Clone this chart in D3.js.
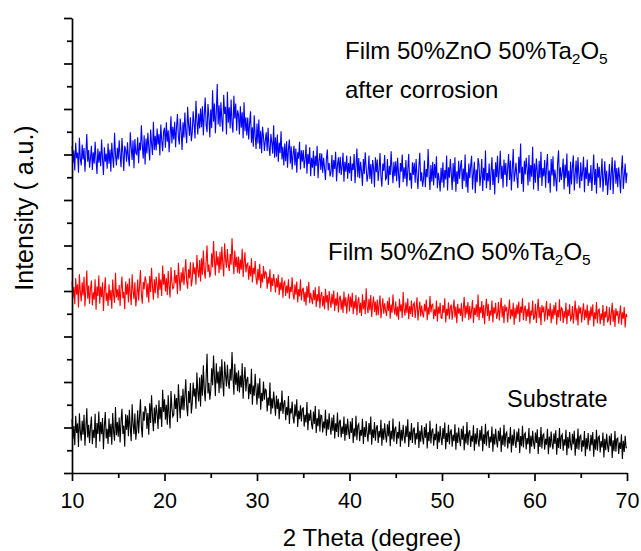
<!DOCTYPE html>
<html><head><meta charset="utf-8">
<script src="https://cdn.jsdelivr.net/npm/d3@7"></script>
<style>
body{margin:0;background:#fff;}
text{font-family:Arial,"Liberation Sans",Helvetica,sans-serif;fill:#000;}
</style>
</head><body>
<svg id="chart" width="641" height="551"></svg>
<script>
// sampling grid of the patterns (2θ, degrees)
const thetaStart = 10, thetaStep = 0.1;
const xTicks = [10, 20, 30, 40, 50, 60, 70];
const xMinorTicks = [15, 25, 35, 45, 55, 65];
const yTicks = [0,100,200,300,400,500,600,700,800,900,1000];
const yMinorTicks = [50,150,250,350,450,550,650,750,850,950];
const seriesColors = ["#0000ff", "#ff0000", "#000000"];

// Intensity (a.u., offset stacked), one value per 0.1° from 10° to 70°
const afterCorrosion = [
718,681,709,665,726,692,704,660,737,690,
676,722,689,714,662,701,745,684,710,671,
693,719,666,705,680,728,688,657,713,682,
707,674,733,690,655,716,684,702,669,724,
680,711,662,726,693,671,748,700,676,715,
689,731,698,672,736,705,664,719,711,684,
727,693,674,749,716,688,731,670,734,703,
700,738,681,726,709,764,720,691,742,678,
735,702,748,716,687,755,724,699,772,710,
741,709,757,722,745,698,766,731,707,750,
759,715,771,728,753,705,742,784,724,761,
733,772,716,760,789,738,722,779,751,710,
771,737,792,749,725,805,766,741,782,729,
748,795,767,735,818,776,744,790,757,801,
760,806,742,788,825,765,749,811,783,738,
799,758,841,772,812,747,793,855,766,808,
761,815,776,750,831,789,805,744,838,770,
804,757,821,768,748,829,779,812,752,797,
788,744,806,759,793,736,815,751,782,742,
781,733,769,795,726,760,717,786,740,712,
768,724,777,712,752,703,761,739,708,731,
749,708,759,716,697,745,726,702,764,693,
738,695,744,684,726,703,751,689,717,676,
724,685,729,671,712,733,680,718,667,701,
719,676,713,660,705,691,728,667,709,684,
710,670,689,722,658,701,679,716,652,693,
671,708,653,697,675,719,648,686,703,666,
702,660,693,671,644,689,711,665,681,652,
661,699,650,688,668,706,641,677,694,659,
695,655,673,704,640,684,662,698,647,681,
659,696,642,680,666,701,637,675,713,650,
692,648,684,663,631,690,657,705,671,640,
657,698,646,679,636,688,670,628,694,661,
689,642,667,703,651,629,680,664,699,645,
648,690,633,675,655,707,668,637,684,652,
685,641,693,658,627,681,662,700,639,672,
646,688,630,665,701,643,660,625,683,655,
682,638,690,651,624,673,704,641,661,629,
645,687,628,668,650,712,656,622,677,640,
684,632,679,648,696,626,660,644,619,671,
638,683,627,666,645,698,621,672,649,690,
659,622,681,640,694,618,663,635,686,647,
673,688,624,669,642,700,628,661,616,680,
648,675,697,623,658,684,615,667,639,692,
678,631,654,690,620,671,643,709,626,659,
641,680,622,662,694,633,668,612,683,650,
697,637,666,708,646,675,627,689,655,681,
629,670,701,644,687,621,667,712,640,658,
682,648,626,695,659,724,635,673,618,686,
656,693,668,632,699,640,677,651,717,623,
680,638,691,663,620,686,649,706,631,670,
652,688,627,674,701,637,665,616,690,654,
696,630,667,647,619,682,709,639,672,644,
661,691,623,678,648,702,629,665,613,684,
634,674,698,621,657,687,636,694,655,626,
683,642,662,695,617,672,646,689,631,660,
638,677,620,659,700,633,668,614,681,649,
673,627,656,691,618,650,685,632,664,611,
645,679,622,658,694,613,661,687,636,670,
628,672,650,615,667,698,624,653,680,637,
660];

const film = [
421,384,409,371,428,392,415,364,437,398,
377,419,390,431,366,402,445,383,412,372,
405,423,368,397,381,426,359,410,389,434,
372,410,387,419,356,401,430,378,396,367,
415,380,402,361,425,391,374,440,386,404,
379,413,367,405,432,384,398,360,421,392,
416,375,428,394,369,437,401,382,419,366,
388,425,379,411,446,393,372,420,404,432,
423,386,417,375,433,398,451,410,381,426,
395,431,412,384,440,403,425,389,456,414,
437,399,428,391,444,410,386,452,420,405,
408,446,417,435,393,462,427,400,441,419,
452,413,439,470,421,405,448,428,463,410,
425,463,437,452,414,479,446,430,468,421,
472,436,489,445,427,466,500,442,458,430,
441,483,452,510,467,434,488,456,476,439,
486,447,497,461,432,505,470,451,492,458,
444,481,458,516,467,437,489,453,475,440,
476,438,469,447,493,431,462,485,441,458,
461,425,456,432,472,419,451,437,466,428,
414,449,423,460,406,438,419,455,427,442,
440,405,431,416,448,398,429,411,437,419,
397,428,408,436,391,419,402,430,385,417,
421,389,412,395,426,383,409,398,430,392,
381,415,392,421,375,404,388,426,379,402,
407,376,398,368,411,385,420,373,396,383,
371,402,380,408,365,393,377,411,362,390,
398,366,389,360,405,375,391,357,400,379,
363,394,371,401,356,384,368,397,353,382,
390,359,381,352,399,366,386,350,378,394,
355,388,364,396,349,378,361,391,347,375,
386,352,374,345,393,360,380,349,406,366,
351,383,358,391,343,372,388,354,377,346,
381,347,369,390,340,362,384,350,373,357,
345,378,356,386,339,370,352,392,361,348,
377,344,366,337,383,355,371,341,398,359,
346,375,352,384,338,367,349,379,343,370,
374,341,363,386,335,358,377,344,368,351,
342,372,355,381,336,364,348,389,353,369,
371,338,360,345,379,333,366,350,374,341,
340,369,352,384,331,361,346,375,338,364,
370,337,359,381,342,366,329,372,350,362,
345,373,333,360,387,341,368,349,376,336,
367,339,358,380,330,363,347,371,343,392,
336,365,351,378,340,369,327,360,383,345,
372,334,357,346,379,331,364,350,374,339,
348,376,335,362,385,342,367,329,370,355,
365,331,357,381,338,360,344,374,326,363,
339,370,349,377,332,366,352,384,336,358,
368,334,361,343,375,328,357,346,379,337,
342,372,330,359,383,340,365,325,369,353,
366,333,356,378,337,361,344,373,329,360,
338,369,347,375,326,358,342,382,334,363,
361,330,356,340,374,327,359,345,371,336,
340,367,328,354,379,335,362,324,368,350,
364,331,355,373,336,359,341,370,325,357,
335,366,344,371,322,353,338,376,329,358,
360,327,351,336,369,323,355,342,367,331,
337,364,325,350,374,332,358,321,362,346,
356,328,349,368,326,353,339,365,320,350,
343];

const substrate = [
118,74,103,61,126,88,109,57,131,92,
71,115,84,128,60,99,142,78,106,66,
101,124,63,95,77,130,55,110,86,135,
69,112,85,121,52,103,134,76,97,64,
120,79,108,62,132,90,71,145,83,112,
80,122,67,113,141,86,104,58,129,95,
127,81,139,99,70,151,108,85,131,73,
96,138,87,124,162,101,78,135,115,147,
140,97,132,84,153,110,171,125,92,144,
109,150,131,97,160,118,145,101,183,134,
162,117,150,106,171,129,98,180,143,124,
128,173,141,165,112,195,152,120,170,139,
185,138,169,206,147,125,180,154,198,131,
153,199,168,186,141,221,179,157,210,146,
216,170,237,183,158,209,262,175,198,161,
181,230,193,258,212,169,241,197,223,176,
234,186,250,201,168,245,215,190,238,199,
185,229,203,266,212,172,240,194,221,180,
226,177,214,188,241,163,207,233,179,205,
211,162,196,173,229,150,192,170,218,181,
150,197,164,208,139,176,158,201,161,184,
182,135,166,148,199,129,164,142,179,153,
126,170,141,163,118,155,136,181,130,152,
160,116,145,127,169,108,142,131,157,121,
109,151,124,162,101,137,118,149,113,141,
143,102,128,111,156,94,131,115,139,107,
96,135,108,147,88,121,103,140,91,127,
126,89,113,98,139,82,118,95,131,101,
84,122,93,128,76,109,90,133,79,112,
117,78,102,86,124,71,108,83,119,92,
75,113,88,121,66,98,80,126,72,104,
108,70,95,82,119,64,101,79,114,86,
69,110,84,124,62,96,77,112,71,99,
105,66,92,78,117,60,98,73,109,83,
67,107,81,115,59,93,74,120,69,97,
102,64,90,76,113,58,95,71,106,80,
65,104,79,118,57,91,72,110,66,94,
100,62,88,74,112,55,93,69,105,78,
63,101,77,109,54,90,70,115,65,92,
98,60,86,72,108,53,91,67,103,76,
61,99,75,111,52,88,68,106,63,90,
96,58,84,70,107,51,89,66,100,74,
59,97,73,104,50,86,65,112,61,88,
94,57,82,69,105,49,87,63,99,72,
58,95,71,103,48,85,64,108,60,89,
92,55,80,67,102,47,86,62,97,70,
56,93,70,100,46,83,61,106,58,86,
90,54,79,65,101,45,84,60,96,68,
55,91,68,98,44,81,59,104,56,85,
88,52,77,63,99,43,82,58,93,66,
53,89,66,96,42,79,57,101,54,83,
86,51,75,62,97,41,80,56,91,64,
52,87,64,94,40,77,55,99,53,81,
85,49,74,60,95,39,79,54,90,63,
50,86,63,93,38,76,53,98,51,80,
83,47,72,58,92,37,77,52,88,61,
48,84,61,90,36,74,51,95,49,78,
81,45,70,56,89,34,75,50,86,59,
46,82,59,87,33,72,48,92,47,75,
77,42,67,53,85,31,71,46,82,56,
55];

const svg = d3.select("#chart");
const x = d3.scaleLinear().domain([10, 70]).range([72, 627]);
const y = d3.scaleLinear().domain([0, 1000]).range([473, 18]);

const line = d3.line()
  .x((d, i) => x(thetaStart + i * thetaStep))
  .y(d => y(d));

[afterCorrosion, film, substrate].forEach((s, k) => {
  svg.append("path")
    .attr("d", line(s))
    .attr("fill", "none")
    .attr("stroke", seriesColors[k])
    .attr("stroke-width", 1.1)
    .attr("stroke-linejoin", "miter");
});

function styleAxis(g) {
  g.selectAll("path,line").attr("stroke", "#000").attr("stroke-width", 1.7);
  g.selectAll("text").attr("font-size", 21.5).attr("font-family", "Arial, 'Liberation Sans', sans-serif").attr("fill", "#000");
}

// bottom axis
svg.append("g").attr("transform", "translate(0,473)")
  .call(d3.axisBottom(x).tickValues(xTicks).tickSize(8).tickSizeOuter(0).tickPadding(12).tickFormat(d3.format("d")))
  .call(styleAxis);
svg.append("g").attr("transform", "translate(0,473)")
  .call(d3.axisBottom(x).tickValues(xMinorTicks).tickSize(5).tickSizeOuter(0).tickFormat(""))
  .call(g => g.select(".domain").remove())
  .call(styleAxis);

// left axis (no labels)
svg.append("g").attr("transform", "translate(72,0)")
  .call(d3.axisLeft(y).tickValues(yTicks).tickSize(8).tickSizeOuter(0).tickFormat(""))
  .call(styleAxis);
svg.append("g").attr("transform", "translate(72,0)")
  .call(d3.axisLeft(y).tickValues(yMinorTicks).tickSize(5).tickSizeOuter(0).tickFormat(""))
  .call(g => g.select(".domain").remove())
  .call(styleAxis);

// axis titles
svg.append("text").attr("x", 372).attr("y", 546).attr("text-anchor", "middle")
  .attr("font-size", 24).text("2 Theta (degree)");
svg.append("text").attr("transform", "translate(33,208) rotate(-90)").attr("text-anchor", "middle")
  .attr("font-size", 25).text("Intensity ( a.u.)");

// annotations
function filmLabel(xp, yp) {
  const t = svg.append("text").attr("x", xp).attr("y", yp).attr("font-size", 24);
  t.append("tspan").text("Film 50%ZnO 50%Ta");
  t.append("tspan").attr("dy", 5).attr("font-size", 15.5).text("2");
  t.append("tspan").attr("dy", -5).text("O");
  t.append("tspan").attr("dy", 5).attr("font-size", 15.5).text("5");
}
filmLabel(345, 59);
svg.append("text").attr("x", 345).attr("y", 98).attr("font-size", 24).text("after corrosion");
filmLabel(328, 260);
svg.append("text").attr("x", 507).attr("y", 407).attr("font-size", 23.5).text("Substrate");
</script>
</body></html>
